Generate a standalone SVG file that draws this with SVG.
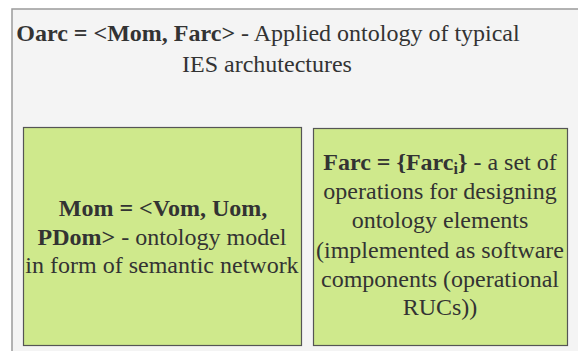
<svg xmlns="http://www.w3.org/2000/svg" width="578" height="351" viewBox="0 0 578 351">
  <rect width="578" height="351" fill="#ffffff"/>
  <g id="oarc">
    <rect x="12" y="9" width="600" height="360" fill="#f4f4f4" stroke="#9a9a9a" stroke-width="1.5"/>
    <text x="268" y="41" font-family="Times New Roman" font-size="24" fill="#333333" text-anchor="middle"><tspan font-weight="bold">Oarc = &lt;Mom, Farc&gt;</tspan> - Applied ontology of typical</text>
    <text x="267" y="72" font-family="Times New Roman" font-size="24" fill="#333333" text-anchor="middle">IES archutectures</text>
  </g>
  <g id="mom">
    <rect x="23.5" y="127.5" width="278" height="218" fill="#cfe98c" stroke="#555555" stroke-width="1.2"/>
    <text x="163" y="216" font-family="Times New Roman" font-size="24" fill="#333333" text-anchor="middle" font-weight="bold">Mom = &lt;Vom, Uom,</text>
    <text x="162" y="245" font-family="Times New Roman" font-size="24" fill="#333333" text-anchor="middle"><tspan font-weight="bold">PDom&gt;</tspan> - ontology model</text>
    <text x="162" y="273" font-family="Times New Roman" font-size="24" fill="#333333" text-anchor="middle">in form of semantic network</text>
  </g>
  <g id="farc">
    <rect x="313.5" y="128.5" width="254" height="217" fill="#cfe98c" stroke="#555555" stroke-width="1.2"/>
    <text x="440" y="170" font-family="Times New Roman" font-size="24" fill="#333333" text-anchor="middle"><tspan font-weight="bold">Farc = {Farc<tspan font-size="16" dy="4">i</tspan><tspan dy="-4">}</tspan></tspan> - a set of</text>
    <text x="440" y="199" font-family="Times New Roman" font-size="24" fill="#333333" text-anchor="middle">operations for designing</text>
    <text x="440" y="228" font-family="Times New Roman" font-size="24" fill="#333333" text-anchor="middle">ontology elements</text>
    <text x="440" y="258" font-family="Times New Roman" font-size="24" fill="#333333" text-anchor="middle">(implemented as software</text>
    <text x="440" y="287" font-family="Times New Roman" font-size="24" fill="#333333" text-anchor="middle">components (operational</text>
    <text x="440" y="315" font-family="Times New Roman" font-size="24" fill="#333333" text-anchor="middle">RUCs))</text>
  </g>
</svg>
